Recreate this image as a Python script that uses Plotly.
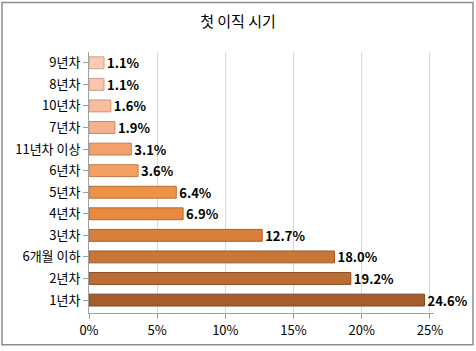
import plotly.graph_objects as go

categories = ["1년차", "2년차", "6개월 이하", "3년차", "4년차", "5년차", "6년차",
              "11년차 이상", "7년차", "10년차", "8년차", "9년차"]
values = [24.6, 19.2, 18.0, 12.7, 6.9, 6.4, 3.6, 3.1, 1.9, 1.6, 1.1, 1.1]
labels = ["24.6%", "19.2%", "18.0%", "12.7%", "6.9%", "6.4%", "3.6%", "3.1%",
          "1.9%", "1.6%", "1.1%", "1.1%"]
colors = ["#A65E2C", "#BC6D34", "#C97636", "#D8803B", "#E68A42", "#EE9246",
          "#F4A062", "#F2A06C", "#F6B28E", "#F8BC9F", "#F9C6AD", "#FACCB5"]
edge = ["#7A4420", "#8C4F25", "#965827", "#A3602B", "#B0682F", "#B86E33",
        "#C47A48", "#C27A50", "#C98A6C", "#CC937A", "#CD9C86", "#CFA18C"]
xticks = [0, 5, 10, 15, 20, 25]
xticklabels = ["0%", "5%", "10%", "15%", "20%", "25%"]

W, H = 476, 351
ml, mr, mt, mb = 89, 42, 52, 36
pw, ph = W - ml - mr, H - mt - mb

fig = go.Figure()
fig.add_trace(go.Bar(
    y=categories, x=values, orientation="h",
    marker=dict(color=colors, line=dict(color=edge, width=1)),
    text=labels, textposition="outside", cliponaxis=False, constraintext="none",
    textfont=dict(family="Noto Sans CJK KR", size=13, color="#000000", weight="bold"),
    width=0.55,
))

fig.update_layout(
    width=W, height=H,
    margin=dict(l=ml, r=mr, t=mt, b=mb),
    paper_bgcolor="white", plot_bgcolor="white",
    showlegend=False,
    font=dict(family="Noto Sans CJK KR", size=13, color="#000000"),
    title=dict(text="첫 이직 시기", x=0.5, xanchor="center", y=1 - 22 / H, yanchor="middle",
               font=dict(family="Noto Sans CJK KR", size=15, color="#000000")),
    xaxis=dict(range=[0, 25.3], tickvals=xticks, ticktext=xticklabels,
               showgrid=True, gridcolor="#D9D9D9", gridwidth=1,
               showline=True, linecolor="#A0A0A0", ticks="outside", ticklen=5,
               tickcolor="#A0A0A0", zeroline=False, tickfont=dict(size=13)),
    yaxis=dict(categoryorder="array", categoryarray=categories,
               showline=True, linecolor="#A0A0A0", ticks="outside", ticklen=5,
               tickcolor="#A0A0A0", showgrid=False, tickfont=dict(size=13),
               range=[-0.6, 11.5]),
    shapes=[dict(type="rect", xref="paper", yref="paper",
                 x0=(2 - ml) / pw, x1=(473 - ml) / pw,
                 y0=(H - mb - 347) / ph, y1=(H - mb - 2) / ph,
                 line=dict(color="#8C8C8C", width=1.5), fillcolor="rgba(0,0,0,0)")],
)

fig.write_html("out.html")
